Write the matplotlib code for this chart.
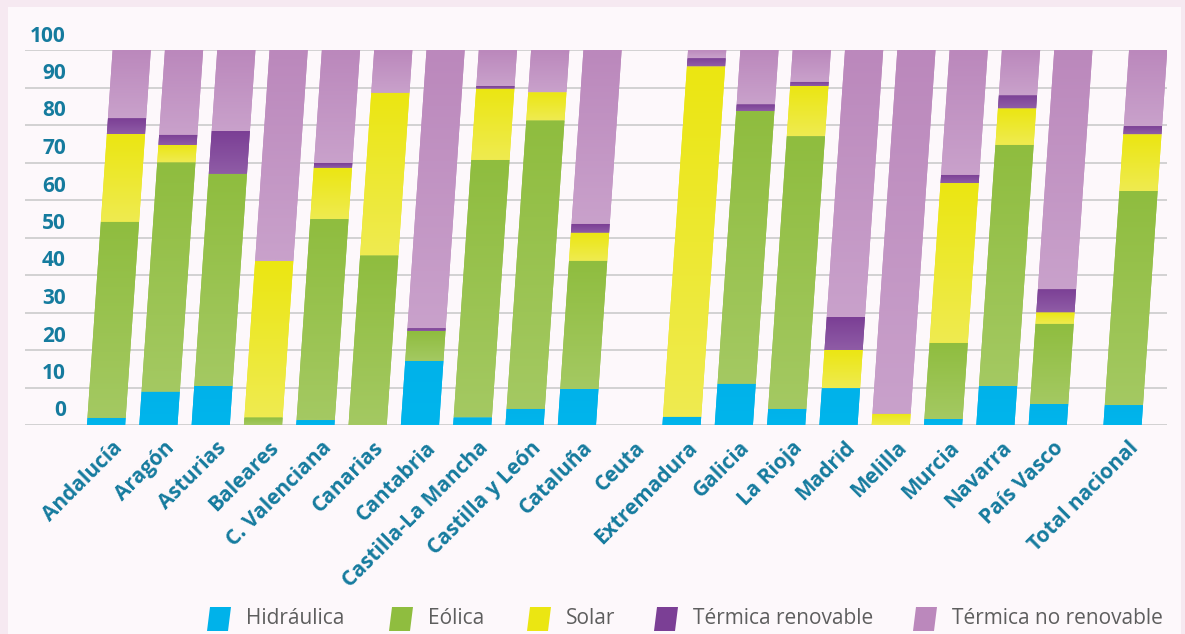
import matplotlib
matplotlib.use('Agg')
import matplotlib.pyplot as plt
import numpy as np
from matplotlib.transforms import Affine2D, ScaledTranslation
from matplotlib.patches import Polygon, Rectangle
from matplotlib.colors import to_rgb

plt.rcParams['font.family'] = ['Open Sans', 'DejaVu Sans']

# datos (% de la generación renovable / no renovable por comunidad)
regiones = ['Andalucía', 'Aragón', 'Asturias', 'Baleares', 'C. Valenciana', 'Canarias',
            'Cantabria', 'Castilla-La Mancha', 'Castilla y León', 'Cataluña', 'Ceuta',
            'Extremadura', 'Galicia', 'La Rioja', 'Madrid', 'Melilla', 'Murcia',
            'Navarra', 'País Vasco', 'Total nacional']
hidraulica = [1.9, 8.9, 10.4, 0, 1.3, 0, 17.1, 2.0, 4.3, 9.6, 0,
              2.2, 11.0, 4.3, 9.8, 0, 1.6, 10.4, 5.6, 5.3]
eolica = [52.3, 61.1, 56.6, 2.0, 53.6, 45.2, 8.0, 68.7, 76.9, 34.2, 0,
          0, 72.7, 72.7, 0, 0, 20.3, 64.3, 21.4, 57.1]
solar = [23.4, 4.7, 0, 41.7, 13.7, 43.4, 0, 19.0, 7.5, 7.5, 0,
         93.4, 0, 13.4, 10.2, 3.0, 42.6, 9.7, 3.0, 15.1]
termica_ren = [4.2, 2.7, 11.4, 0, 1.3, 0, 0.7, 0.7, 0, 2.4, 0,
               2.2, 1.8, 1.1, 8.8, 0, 2.2, 3.5, 6.2, 2.2]
termica_noren = [18.2, 22.6, 21.6, 56.3, 30.1, 11.4, 74.2, 9.6, 11.3, 46.3, 0,
                 2.2, 14.5, 8.5, 71.2, 97.0, 33.3, 12.1, 63.8, 20.3]

series = ['Hidráulica', 'Eólica', 'Solar', 'Térmica renovable', 'Térmica no renovable']
valores = [hidraulica, eolica, solar, termica_ren, termica_noren]
col_arriba = ['#00b2ea', '#8fbd3f', '#ebe612', '#7b3f95', '#bb88bc']
col_abajo = ['#00b5ec', '#a4c962', '#efeb50', '#8f5ca6', '#c9a1cb']
azul = '#157b9e'

# posiciones: el total va algo separado
x = np.array(list(range(len(regiones) - 1)) + [len(regiones) - 1 + 0.43])

W, H = 1185, 634
fig = plt.figure(figsize=(W / 100, H / 100), dpi=100)
fig.patch.set_facecolor('#f6e9f1')
fig.add_artist(Rectangle((8 / W, 0), (1181 - 8) / W, (H - 7) / H, transform=fig.transFigure,
                         facecolor='#fdf8fb', edgecolor='none', zorder=0))

ax = fig.add_axes([25 / W, (H - 425) / H, (1167 - 25) / W, 375 / H])
ax.patch.set_visible(False)

# barras inclinadas
k = 0.0049
skew = Affine2D(np.array([[1, k, 0], [0, 1, 0], [0, 0, 1]]))

fondo = np.zeros(len(regiones))
for s in range(len(series)):
    barras = ax.bar(x, valores[s], 0.73, bottom=fondo, color=col_arriba[s], zorder=2, linewidth=0)
    c0 = np.array(to_rgb(col_abajo[s]))
    c1 = np.array(to_rgb(col_arriba[s]))
    img = c0 + (c1 - c0) * np.linspace(0, 1, 64)[:, None, None]
    for i, b in enumerate(barras):
        b.set_transform(skew + ax.transData)
        h = valores[s][i]
        if h <= 0:
            continue
        im = ax.imshow(img, extent=[x[i] - 0.5, x[i] + 1.0, fondo[i], fondo[i] + h],
                       origin='lower', aspect='auto', interpolation='bilinear', zorder=3)
        im.set_clip_path(b.get_path(), b.get_transform())
    fondo += np.array(valores[s])

ax.set_xlim(-1.55, 20.28)
ax.set_ylim(0, 100)
ax.set_yticks(range(0, 101, 10))
ax.set_yticklabels([])
ax.yaxis.grid(True, color='#cfcfcf', lw=1.3)
ax.set_axisbelow(True)
for sp in ax.spines.values():
    sp.set_visible(False)
ax.tick_params(axis='y', length=0)
ax.tick_params(axis='x', length=0, pad=9)

for v in range(0, 101, 10):
    ax.annotate(str(v), (-0.77, v), xytext=(0, 14), textcoords='offset pixels',
                ha='right', va='center', fontsize=15, fontweight='bold', color=azul,
                annotation_clip=False)

ax.set_xticks(x)
ax.set_xticklabels(regiones, rotation=45, ha='right', va='top', rotation_mode='anchor',
                   fontsize=15, fontweight='bold', color=azul)
desplaza = ScaledTranslation(4 / 72, 0, fig.dpi_scale_trans)
for lab in ax.get_xticklabels():
    lab.set_transform(lab.get_transform() + desplaza)

# leyenda
leg_x = [207, 389, 527, 654, 913]
for i in range(len(series)):
    px = leg_x[i]
    pts = [(px, 3), (px + 21, 3), (px + 24, 27), (px + 3, 27)]
    fig.add_artist(Polygon([(a / W, b / H) for a, b in pts], closed=True, transform=fig.transFigure,
                           facecolor=col_arriba[i], edgecolor='none'))
    fig.text((px + 39) / W, 16 / H, series[i], ha='left', va='center', fontsize=15,
             color='#5e5e5e')

fig.savefig('out.png', dpi=100, facecolor=fig.get_facecolor())
